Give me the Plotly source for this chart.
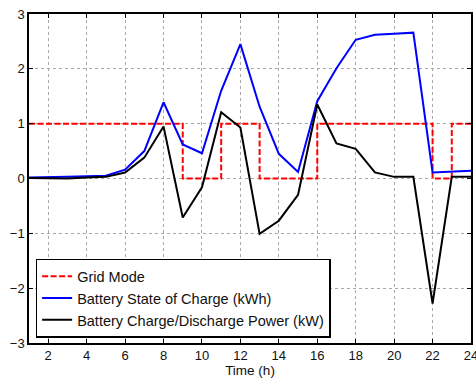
import plotly.graph_objects as go

hours = list(range(1, 25))

# grid connection mode per hour (1 = connected, 0 = islanded)
grid_mode = [1, 1, 1, 1, 1, 1, 1, 1, 0, 0, 1, 1, 0, 0, 0, 1, 1, 1, 1, 1, 1, 0, 1, 1]

# battery state of charge (kWh)
soc = [0.02, 0.02, 0.03, 0.04, 0.05, 0.16, 0.50, 1.39, 0.62, 0.46, 1.60, 2.45,
       1.31, 0.45, 0.12, 1.41, 2.01, 2.53, 2.62, 2.64, 2.66, 0.11, 0.12, 0.14]

# battery charge/discharge power (kW)
power = [0.01, 0.01, 0.00, 0.02, 0.03, 0.11, 0.38, 0.95, -0.71, -0.16, 1.21, 0.93,
         -1.01, -0.77, -0.30, 1.35, 0.64, 0.54, 0.11, 0.03, 0.03, -2.28, 0.03, 0.03]

x_ticks = list(range(2, 25, 2))
y_ticks = [-3, -2, -1, 0, 1, 2, 3]

font_family = "Liberation Sans, Arial, sans-serif"
text_color = "#111111"

fig = go.Figure()
fig.add_trace(go.Scatter(
    x=hours, y=grid_mode, mode="lines", line_shape="hv",
    name="Grid Mode",
    line=dict(color="#ff0000", width=2, dash="6px,2.5px"),
))
fig.add_trace(go.Scatter(
    x=hours, y=soc, mode="lines",
    name="Battery State of Charge (kWh)",
    line=dict(color="#0000ff", width=2),
))
fig.add_trace(go.Scatter(
    x=hours, y=power, mode="lines",
    name="Battery Charge/Discharge Power (kW)",
    line=dict(color="#000000", width=2),
))

axis_common = dict(
    showline=True, linecolor="black", linewidth=1.5, mirror="allticks",
    ticks="inside", ticklen=4, tickcolor="black", tickwidth=1,
    showgrid=True, gridcolor="#a8a8a8", gridwidth=1, griddash="dot",
    zeroline=False, ticklabeloverflow="allow", automargin=False,
    tickfont=dict(family=font_family, size=13, color=text_color),
)

fig.update_xaxes(range=[1, 24], tickvals=x_ticks,
                 title=dict(text="Time (h)", standoff=3,
                            font=dict(family=font_family, size=13.5, color=text_color)),
                 **axis_common)
fig.update_yaxes(range=[-3, 3], tickvals=y_ticks, **axis_common)

fig.update_layout(
    width=476, height=379,
    margin=dict(l=29, r=5, t=14, b=36),
    paper_bgcolor="white", plot_bgcolor="white",
    font=dict(family=font_family, size=13, color=text_color),
    legend=dict(
        x=0.015, y=0.016, xanchor="left", yanchor="bottom",
        bgcolor="white", bordercolor="black", borderwidth=1.5,
        font=dict(family=font_family, size=14.5, color=text_color),
        tracegroupgap=0,
    ),
)

fig.write_html("out.html")
